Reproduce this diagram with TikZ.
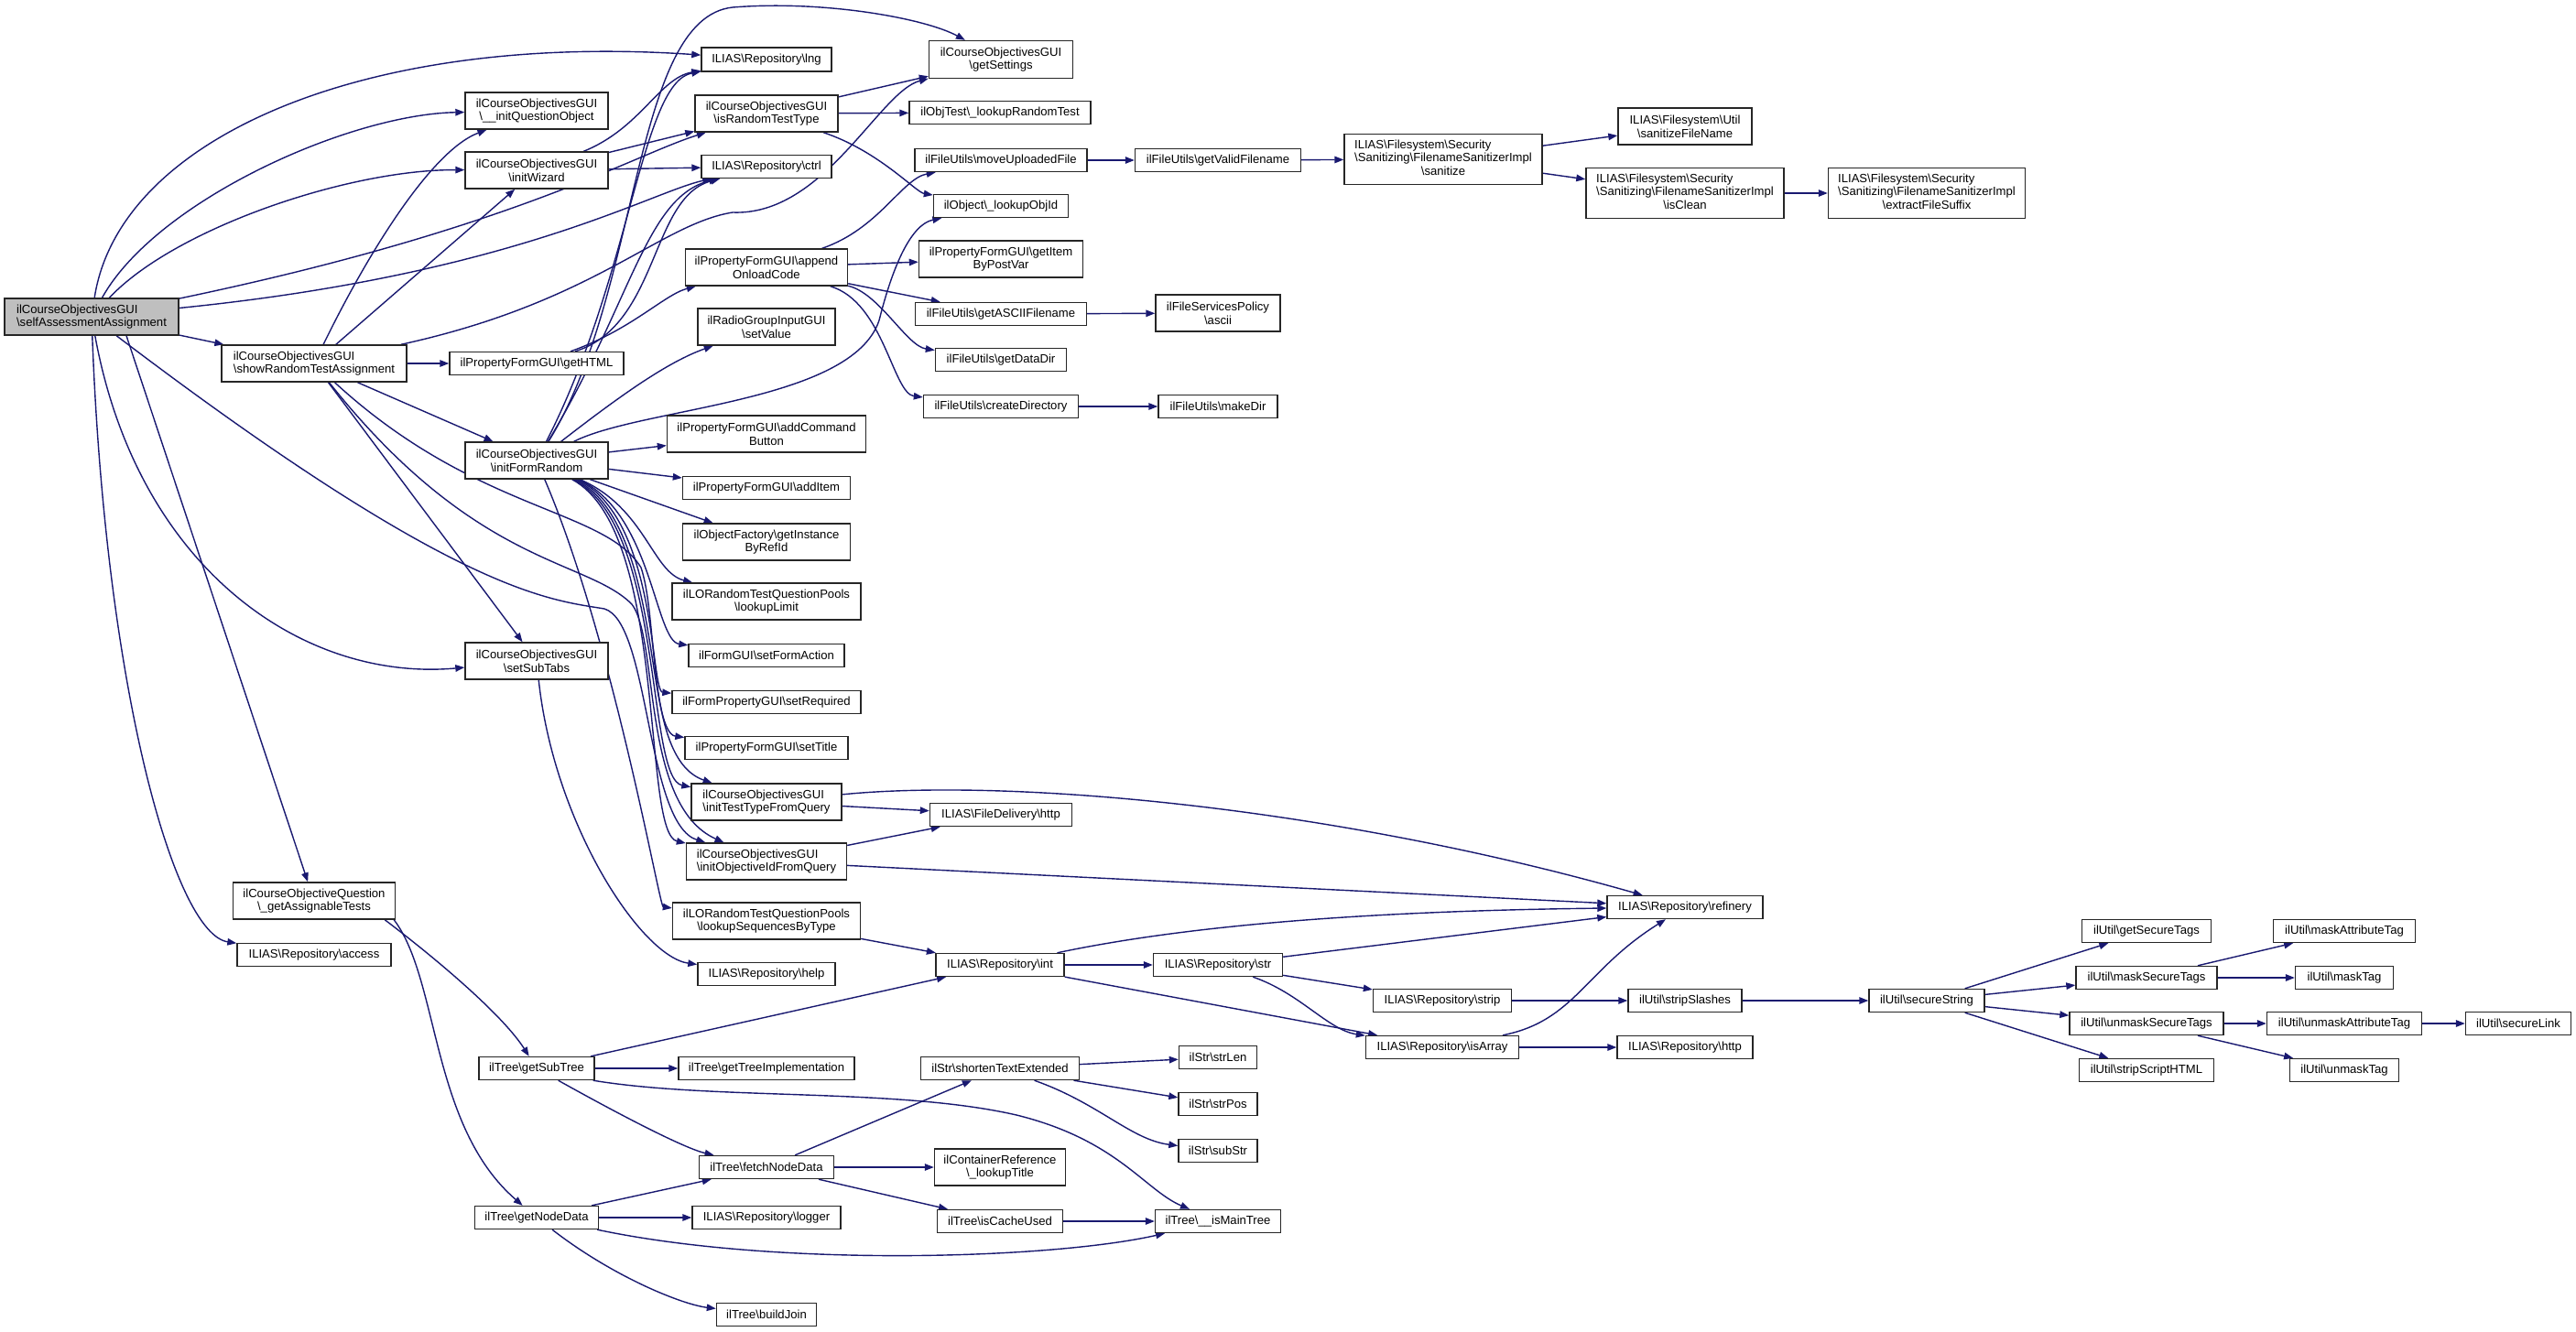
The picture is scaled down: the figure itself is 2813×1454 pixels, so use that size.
\documentclass[tikz,border=0pt]{standalone}
\usepackage{fontspec}
\setmainfont{Liberation Sans}
\usetikzlibrary{arrows.meta,backgrounds}
\definecolor{edgecol}{HTML}{191970}
\definecolor{selfgray}{HTML}{BFBFBF}
\newcommand{\bsl}{\textbackslash}
\tikzset{
  box/.style={draw=black!85, line width=1.4pt, fill=white, inner sep=0pt, align=center,
    font=\fontsize{13.1}{14.7}\selectfont},
  lbox/.style={box, align=left},
  e/.style={draw=edgecol, line width=1.4pt, -{Triangle[length=10pt,width=7.5pt]}},
}
\begin{document}
\begin{tikzpicture}[x=1pt,y=-1pt]
\useasboundingbox (0,0) rectangle (2813,1454);
% column A/B/C
\node[lbox,fill=selfgray,minimum width=190pt,minimum height=40pt] (self) at (100,346) {ilCourseObjectivesGUI\\\bsl selfAssessmentAssignment};
\node[lbox,minimum width=202pt,minimum height=40pt] (showRandom) at (343,397) {ilCourseObjectivesGUI\\\bsl showRandomTestAssignment};
\node[box,minimum width=177pt,minimum height=40pt] (getAssignableTests) at (343,984) {ilCourseObjectiveQuestion\\\bsl\_getAssignableTests};
\node[box,minimum width=168pt,minimum height=25pt] (access) at (343,1043) {ILIAS\bsl Repository\bsl access};
\node[box,minimum width=156pt,minimum height=40pt] (initQuestionObject) at (586,121) {ilCourseObjectivesGUI\\\bsl\_\_initQuestionObject};
\node[box,minimum width=156pt,minimum height=40pt] (initWizard) at (586,186) {ilCourseObjectivesGUI\\\bsl initWizard};
\node[box,minimum width=190pt,minimum height=25pt] (getHTML) at (586,397) {ilPropertyFormGUI\bsl getHTML};
\node[box,minimum width=156pt,minimum height=40pt] (initFormRandom) at (586,503) {ilCourseObjectivesGUI\\\bsl initFormRandom};
\node[box,minimum width=156pt,minimum height=40pt] (setSubTabs) at (586,722) {ilCourseObjectivesGUI\\\bsl setSubTabs};
\node[box,minimum width=126pt,minimum height=25pt] (getSubTree) at (586,1167) {ilTree\bsl getSubTree};
\node[box,minimum width=135pt,minimum height=25pt] (getNodeData) at (586,1330) {ilTree\bsl getNodeData};
% column D
\node[box,minimum width=142pt,minimum height=26pt] (lng) at (837,65) {ILIAS\bsl Repository\bsl lng};
\node[box,minimum width=156pt,minimum height=40pt] (isRandomTestType) at (837,124) {ilCourseObjectivesGUI\\\bsl isRandomTestType};
\node[box,minimum width=142pt,minimum height=25pt] (ctrl) at (837,182) {ILIAS\bsl Repository\bsl ctrl};
\node[box,minimum width=177pt,minimum height=40pt] (appendOnloadCode) at (837,292) {ilPropertyFormGUI\bsl append\\OnloadCode};
\node[box,minimum width=150pt,minimum height=40pt] (setValue) at (837,357) {ilRadioGroupInputGUI\\\bsl setValue};
\node[box,minimum width=217pt,minimum height=40pt] (addCommandButton) at (837,474) {ilPropertyFormGUI\bsl addCommand\\Button};
\node[box,minimum width=183pt,minimum height=25pt] (addItem) at (837,533) {ilPropertyFormGUI\bsl addItem};
\node[box,minimum width=183pt,minimum height=40pt] (getInstanceByRefId) at (837,592) {ilObjectFactory\bsl getInstance\\ByRefId};
\node[box,minimum width=206pt,minimum height=40pt] (lookupLimit) at (837,657) {ilLORandomTestQuestionPools\\\bsl lookupLimit};
\node[box,minimum width=170pt,minimum height=25pt] (setFormAction) at (837,716) {ilFormGUI\bsl setFormAction};
\node[box,minimum width=206pt,minimum height=25pt] (setRequired) at (837,767) {ilFormPropertyGUI\bsl setRequired};
\node[box,minimum width=178pt,minimum height=25pt] (setTitle) at (837,817) {ilPropertyFormGUI\bsl setTitle};
\node[lbox,minimum width=164pt,minimum height=40pt] (initTestTypeFromQuery) at (837,876) {ilCourseObjectivesGUI\\\bsl initTestTypeFromQuery};
\node[lbox,minimum width=175pt,minimum height=40pt] (initObjectiveIdFromQuery) at (837,941) {ilCourseObjectivesGUI\\\bsl initObjectiveIdFromQuery};
\node[box,minimum width=205pt,minimum height=40pt] (lookupSequencesByType) at (837,1006) {ilLORandomTestQuestionPools\\\bsl lookupSequencesByType};
\node[box,minimum width=150pt,minimum height=25pt] (help) at (837,1064) {ILIAS\bsl Repository\bsl help};
\node[box,minimum width=192pt,minimum height=25pt] (getTreeImplementation) at (837,1167) {ilTree\bsl getTreeImplementation};
\node[box,minimum width=147pt,minimum height=25pt] (fetchNodeData) at (837,1275) {ilTree\bsl fetchNodeData};
\node[box,minimum width=162pt,minimum height=25pt] (logger) at (837,1330) {ILIAS\bsl Repository\bsl logger};
\node[box,minimum width=109pt,minimum height=25pt] (buildJoin) at (837,1436) {ilTree\bsl buildJoin};
% column E
\node[box,minimum width=157pt,minimum height=41pt] (getSettings) at (1093,65) {ilCourseObjectivesGUI\\\bsl getSettings};
\node[box,minimum width=198pt,minimum height=25pt] (lookupRandomTest) at (1092,123) {ilObjTest\bsl\_lookupRandomTest};
\node[box,minimum width=188pt,minimum height=25pt] (moveUploadedFile) at (1093,175) {ilFileUtils\bsl moveUploadedFile};
\node[box,minimum width=147pt,minimum height=25pt] (lookupObjId) at (1093,225) {ilObject\bsl\_lookupObjId};
\node[box,minimum width=179pt,minimum height=40pt] (getItemByPostVar) at (1093,283) {ilPropertyFormGUI\bsl getItem\\ByPostVar};
\node[box,minimum width=187pt,minimum height=25pt] (getASCIIFilename) at (1093,343) {ilFileUtils\bsl getASCIIFilename};
\node[box,minimum width=143pt,minimum height=25pt] (getDataDir) at (1093,393) {ilFileUtils\bsl getDataDir};
\node[box,minimum width=169pt,minimum height=25pt] (createDirectory) at (1093,444) {ilFileUtils\bsl createDirectory};
\node[box,minimum width=155pt,minimum height=25pt] (fdhttp) at (1093,890) {ILIAS\bsl FileDelivery\bsl http};
\node[box,minimum width=140pt,minimum height=25pt] (int) at (1092,1054) {ILIAS\bsl Repository\bsl int};
\node[box,minimum width=173pt,minimum height=25pt] (shortenTextExtended) at (1092,1167) {ilStr\bsl shortenTextExtended};
\node[box,minimum width=143pt,minimum height=40pt] (lookupTitle) at (1092,1275) {ilContainerReference\\\bsl\_lookupTitle};
\node[box,minimum width=137pt,minimum height=25pt] (isCacheUsed) at (1092,1334) {ilTree\bsl isCacheUsed};
% column F
\node[box,minimum width=181pt,minimum height=25pt] (getValidFilename) at (1330,175) {ilFileUtils\bsl getValidFilename};
\node[box,minimum width=136pt,minimum height=40pt] (ascii) at (1330,342) {ilFileServicesPolicy\\\bsl ascii};
\node[box,minimum width=130pt,minimum height=25pt] (makeDir) at (1330,444) {ilFileUtils\bsl makeDir};
\node[box,minimum width=141pt,minimum height=25pt] (str) at (1330,1054) {ILIAS\bsl Repository\bsl str};
\node[box,minimum width=85pt,minimum height=25pt] (strLen) at (1330,1155) {ilStr\bsl strLen};
\node[box,minimum width=86pt,minimum height=25pt] (strPos) at (1330,1206) {ilStr\bsl strPos};
\node[box,minimum width=86pt,minimum height=25pt] (subStr) at (1330,1257) {ilStr\bsl subStr};
\node[box,minimum width=137pt,minimum height=25pt] (isMainTree) at (1330,1334) {ilTree\bsl\_\_isMainTree};
% column G / H / I
\node[box,minimum width=216pt,minimum height=55pt] (sanitize) at (1576,174) {\begin{tabular}{@{}l@{}}ILIAS\bsl Filesystem\bsl Security\\\bsl Sanitizing\bsl FilenameSanitizerImpl\\\multicolumn{1}{@{}c@{}}{\bsl sanitize}\end{tabular}};
\node[box,minimum width=151pt,minimum height=25pt] (strip) at (1575,1093) {ILIAS\bsl Repository\bsl strip};
\node[box,minimum width=167pt,minimum height=25pt] (isArray) at (1575,1144) {ILIAS\bsl Repository\bsl isArray};
\node[box,minimum width=146pt,minimum height=40pt] (sanitizeFileName) at (1840,138) {ILIAS\bsl Filesystem\bsl Util\\\bsl sanitizeFileName};
\node[box,minimum width=216pt,minimum height=55pt] (isClean) at (1840,211) {\begin{tabular}{@{}l@{}}ILIAS\bsl Filesystem\bsl Security\\\bsl Sanitizing\bsl FilenameSanitizerImpl\\\multicolumn{1}{@{}c@{}}{\bsl isClean}\end{tabular}};
\node[box,minimum width=170pt,minimum height=25pt] (refinery) at (1840,991) {ILIAS\bsl Repository\bsl refinery};
\node[box,minimum width=124pt,minimum height=25pt] (stripSlashes) at (1840,1093) {ilUtil\bsl stripSlashes};
\node[box,minimum width=148pt,minimum height=25pt] (rhttp) at (1840,1144) {ILIAS\bsl Repository\bsl http};
\node[box,minimum width=215pt,minimum height=55pt] (extractFileSuffix) at (2104,211) {\begin{tabular}{@{}l@{}}ILIAS\bsl Filesystem\bsl Security\\\bsl Sanitizing\bsl FilenameSanitizerImpl\\\multicolumn{1}{@{}c@{}}{\bsl extractFileSuffix}\end{tabular}};
\node[box,minimum width=126pt,minimum height=25pt] (secureString) at (2104,1093) {ilUtil\bsl secureString};
% columns J / K / L
\node[box,minimum width=141pt,minimum height=25pt] (getSecureTags) at (2344,1017) {ilUtil\bsl getSecureTags};
\node[box,minimum width=154pt,minimum height=25pt] (maskSecureTags) at (2344,1068) {ilUtil\bsl maskSecureTags};
\node[box,minimum width=168pt,minimum height=25pt] (unmaskSecureTags) at (2344,1118) {ilUtil\bsl unmaskSecureTags};
\node[box,minimum width=147pt,minimum height=25pt] (stripScriptHTML) at (2344,1169) {ilUtil\bsl stripScriptHTML};
\node[box,minimum width=155pt,minimum height=25pt] (maskAttributeTag) at (2560,1017) {ilUtil\bsl maskAttributeTag};
\node[box,minimum width=107pt,minimum height=25pt] (maskTag) at (2560,1068) {ilUtil\bsl maskTag};
\node[box,minimum width=169pt,minimum height=25pt] (unmaskAttributeTag) at (2560,1118) {ilUtil\bsl unmaskAttributeTag};
\node[box,minimum width=119pt,minimum height=25pt] (unmaskTag) at (2560,1169) {ilUtil\bsl unmaskTag};
\node[box,minimum width=115pt,minimum height=25pt] (secureLink) at (2750,1118) {ilUtil\bsl secureLink};

\begin{pgfonlayer}{background}
% selfAssessmentAssignment
\draw[e] (self) .. controls (130,150) and (400,35) .. (lng);
\draw[e] (self) .. controls (170,220) and (380,125) .. (initQuestionObject);
\draw[e] (self) .. controls (190,250) and (380,185) .. (initWizard);
\draw[e] (self) .. controls (560,250) and (690,170) .. (isRandomTestType);
\draw[e] (self) .. controls (560,300) and (710,210) .. (ctrl);
\draw[e] (self) -- (showRandom);
\draw[e] ([xshift=38pt]self.south) -- (getAssignableTests);
\draw[e] (self) .. controls (115,750) and (190,1020) .. (access);
\draw[e] (self) .. controls (150,620) and (330,745) .. (setSubTabs);
\draw[e] (self) .. controls (500,650) and (600,655) .. (660,665) .. controls (710,680) and (705,900) .. (initObjectiveIdFromQuery);
% showRandomTestAssignment
\draw[e] (showRandom) .. controls (400,280) and (470,165) .. (initQuestionObject);
\draw[e] (showRandom) -- (initWizard);
\draw[e] (showRandom) -- (getHTML);
\draw[e] (showRandom) -- (initFormRandom);
\draw[e] (showRandom) -- (setSubTabs);
\draw[e] (showRandom) .. controls (650,330) and (720,245) .. (800,232) .. controls (900,236) and (960,100) .. (getSettings);
\draw[e] (showRandom) .. controls (520,560) and (660,555) .. (700,620) .. controls (720,680) and (705,830) .. (initTestTypeFromQuery);
\draw[e] (showRandom) .. controls (520,620) and (640,610) .. (690,660) .. controls (720,700) and (700,880) .. (initObjectiveIdFromQuery);
% getHTML
\draw[e] (getHTML) .. controls (690,360) and (725,322) .. (appendOnloadCode);
\draw[e] (getHTML) .. controls (720,355) and (710,215) .. (ctrl);
% initWizard
\draw[e] (initWizard) .. controls (700,140) and (720,85) .. (lng);
\draw[e] (initWizard) -- (ctrl);
\draw[e] (initWizard) -- (isRandomTestType);
% isRandomTestType
\draw[e] (isRandomTestType) -- (getSettings);
\draw[e] (isRandomTestType) -- (lookupRandomTest);
\draw[e] (isRandomTestType) .. controls (960,165) and (1000,210) .. (lookupObjId);
% initFormRandom
\draw[e] (initFormRandom) .. controls (700,320) and (690,20) .. (800,8) .. controls (900,0) and (1010,20) .. (getSettings);
\draw[e] (initFormRandom) .. controls (690,300) and (700,90) .. (lng);
\draw[e] (initFormRandom) .. controls (690,330) and (705,215) .. (ctrl);
\draw[e] (initFormRandom) .. controls (680,430) and (730,395) .. (setValue);
\draw[e] (initFormRandom) .. controls (700,445) and (930,440) .. (960,350) .. controls (975,290) and (995,245) .. (lookupObjId);
\draw[e] (initFormRandom) -- (addCommandButton);
\draw[e] (initFormRandom) -- (addItem);
\draw[e] (initFormRandom) -- (getInstanceByRefId);
\draw[e] (initFormRandom) .. controls (705,555) and (712,625) .. (lookupLimit);
\draw[e] (initFormRandom) .. controls (712,560) and (715,700) .. (setFormAction);
\draw[e] (initFormRandom) .. controls (718,565) and (710,755) .. (setRequired);
\draw[e] (initFormRandom) .. controls (722,570) and (705,800) .. (setTitle);
\draw[e] (initFormRandom) .. controls (726,575) and (705,850) .. (initTestTypeFromQuery);
\draw[e] (initFormRandom) .. controls (730,580) and (700,910) .. (initObjectiveIdFromQuery);
\draw[e] (initFormRandom) .. controls (670,700) and (720,990) .. (lookupSequencesByType);
% setSubTabs
\draw[e] (setSubTabs) .. controls (605,900) and (700,1045) .. (help);
% appendOnloadCode
\draw[e] (appendOnloadCode) .. controls (960,250) and (985,195) .. (moveUploadedFile);
\draw[e] (appendOnloadCode) -- (getItemByPostVar);
\draw[e] (appendOnloadCode) -- (getASCIIFilename);
\draw[e] (appendOnloadCode) .. controls (960,320) and (990,378) .. (getDataDir);
\draw[e] (appendOnloadCode) .. controls (965,330) and (975,430) .. (createDirectory);
% file utils chain
\draw[e] (moveUploadedFile) -- (getValidFilename);
\draw[e] (getValidFilename) -- (sanitize);
\draw[e] (sanitize) -- (sanitizeFileName);
\draw[e] (sanitize) -- (isClean);
\draw[e] (isClean) -- (extractFileSuffix);
\draw[e] (getASCIIFilename) -- (ascii);
\draw[e] (createDirectory) -- (makeDir);
% query / refinery
\draw[e] (initTestTypeFromQuery) -- (fdhttp);
\draw[e] (initTestTypeFromQuery) .. controls (1100,850) and (1450,880) .. (refinery);
\draw[e] (initObjectiveIdFromQuery) -- (fdhttp);
\draw[e] (initObjectiveIdFromQuery) -- (refinery);
\draw[e] (lookupSequencesByType) -- (int);
\draw[e] (int) .. controls (1300,1010) and (1500,995) .. (refinery);
\draw[e] (int) -- (str);
\draw[e] (int) -- (isArray);
\draw[e] (str) -- (refinery);
\draw[e] (str) -- (strip);
\draw[e] (str) .. controls (1420,1085) and (1450,1125) .. (isArray);
\draw[e] (isArray) .. controls (1720,1115) and (1730,1060) .. (refinery);
\draw[e] (isArray) -- (rhttp);
\draw[e] (strip) -- (stripSlashes);
\draw[e] (stripSlashes) -- (secureString);
\draw[e] (secureString) -- (getSecureTags);
\draw[e] (secureString) -- (maskSecureTags);
\draw[e] (secureString) -- (unmaskSecureTags);
\draw[e] (secureString) -- (stripScriptHTML);
\draw[e] (maskSecureTags) -- (maskAttributeTag);
\draw[e] (maskSecureTags) -- (maskTag);
\draw[e] (unmaskSecureTags) -- (unmaskAttributeTag);
\draw[e] (unmaskSecureTags) -- (unmaskTag);
\draw[e] (unmaskAttributeTag) -- (secureLink);
% tree
\draw[e] ([xshift=-12pt]getAssignableTests.south east) .. controls (480,1050) and (550,1110) .. (getSubTree);
\draw[e] ([xshift=-2pt]getAssignableTests.south east) .. controls (480,1070) and (470,1230) .. (getNodeData);
\draw[e] (getSubTree) -- (int);
\draw[e] (getSubTree) -- (getTreeImplementation);
\draw[e] (getSubTree) .. controls (690,1225) and (750,1255) .. (fetchNodeData);
\draw[e] ([xshift=-2pt]getSubTree.south east) .. controls (780,1202) and (980,1188) .. (1110,1218) .. controls (1220,1245) and (1250,1300) .. (isMainTree);
\draw[e] (getNodeData) -- (fetchNodeData);
\draw[e] (getNodeData) -- (logger);
\draw[e] ([xshift=-2pt]getNodeData.south east) .. controls (850,1385) and (1150,1375) .. (isMainTree);
\draw[e] (getNodeData) .. controls (670,1395) and (745,1425) .. (buildJoin);
\draw[e] (fetchNodeData) -- (shortenTextExtended);
\draw[e] (fetchNodeData) -- (lookupTitle);
\draw[e] (fetchNodeData) -- (isCacheUsed);
\draw[e] (isCacheUsed) -- (isMainTree);
\draw[e] (shortenTextExtended) -- (strLen);
\draw[e] (shortenTextExtended) -- (strPos);
\draw[e] (shortenTextExtended) .. controls (1200,1205) and (1235,1245) .. (subStr);
\end{pgfonlayer}
\end{tikzpicture}
\end{document}
